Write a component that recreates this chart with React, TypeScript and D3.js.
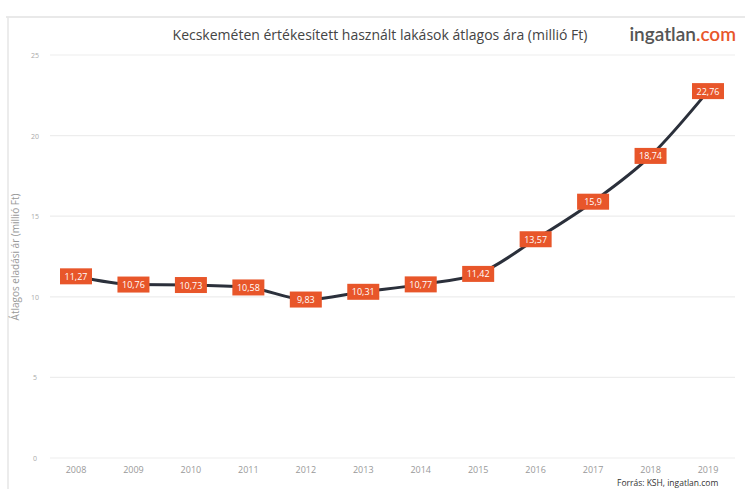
import React from "react";
import * as d3 from "d3";

const years = ["2008","2009","2010","2011","2012","2013","2014","2015","2016","2017","2018","2019"];
const prices = [11.27,10.76,10.73,10.58,9.83,10.31,10.77,11.42,13.57,15.9,18.74,22.76];
const priceLabels = ["11,27","10,76","10,73","10,58","9,83","10,31","10,77","11,42","13,57","15,9","18,74","22,76"];
const yTicks = [0,5,10,15,20,25];

const W = 745, H = 489;
const ORANGE = "#e8562a";

export default function App() {
  const x = d3.scalePoint<string>().domain(years).range([76, 708]);
  const y = d3.scaleLinear().domain([0, 25]).range([458, 55]);
  const line = d3.line<number>()
    .x((_, i) => x(years[i]) as number)
    .y(d => y(d))
    .curve(d3.curveMonotoneX);
  const font = "'Open Sans', 'Noto Sans', sans-serif";
  return (
    <svg width={W} height={H} style={{ position: "absolute", left: 0, top: 0, background: "#fff" }} fontFamily={font}>
      <rect x={0} y={0} width={W} height={H} fill="#fff" />
      <line x1={6} x2={W} y1={17} y2={17} stroke="#e2e2e2" strokeWidth={1.5} />
      <line x1={8} x2={8} y1={17} y2={H} stroke="#e6e6e6" strokeWidth={1.5} />
      <text x={380} y={40} textAnchor="middle" fontSize={14} fill="#444">
        Kecskeméten értékesített használt lakások átlagos ára (millió Ft)
      </text>
      <text x={736} y={41} textAnchor="end" fontSize={19} fontWeight={600} fill="#555" fontFamily="Lato, 'Open Sans', sans-serif">
        ingatlan<tspan fill={ORANGE}>.com</tspan>
      </text>
      {yTicks.map(t => (
        <g key={t}>
          <line x1={50} x2={735} y1={y(t)} y2={y(t)} stroke="#ededed" strokeWidth={1.2} />
          <text x={35} y={y(t) + 3} textAnchor="middle" fontSize={7} fill="#aaa">{t}</text>
        </g>
      ))}
      <text transform="translate(19,257) rotate(-90)" textAnchor="middle" fontSize={10} fill="#999">
        Átlagos eladási ár (millió Ft)
      </text>
      {years.map(yr => (
        <text key={yr} x={x(yr)} y={473} textAnchor="middle" fontSize={9} fill="#999">{yr}</text>
      ))}
      <path d={line(prices) || ""} fill="none" stroke="#2b303b" strokeWidth={3} />
      {prices.map((v, i) => (
        <g key={i} transform={`translate(${x(years[i])},${y(v)})`}>
          <rect x={-16} y={-8} width={32} height={16} fill={ORANGE} />
          <text x={0} y={3.5} textAnchor="middle" fontSize={9} fill="#fff">{priceLabels[i]}</text>
        </g>
      ))}
      <text x={617} y={486} fontSize={8.5} fill="#333">Forrás: KSH, ingatlan.com</text>
    </svg>
  );
}
